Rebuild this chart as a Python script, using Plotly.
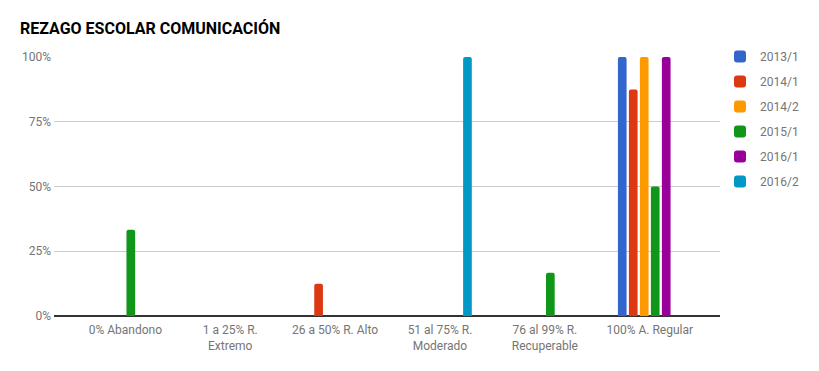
import plotly.graph_objects as go

categories = ["0% Abandono", "1 a 25% R.<br>Extremo", "26 a 50% R. Alto",
              "51 al 75% R.<br>Moderado", "76 al 99% R.<br>Recuperable", "100% A. Regular"]
series_names = ["2013/1", "2014/1", "2014/2", "2015/1", "2016/1", "2016/2"]
s2013_1 = [0, 0, 0, 0, 0, 100]
s2014_1 = [0, 0, 12.5, 0, 0, 87.5]
s2014_2 = [0, 0, 0, 0, 0, 100]
s2015_1 = [33.3, 0, 0, 0, 16.7, 50]
s2016_1 = [0, 0, 0, 0, 0, 100]
s2016_2 = [0, 0, 0, 100, 0, 0]
series_values = [s2013_1, s2014_1, s2014_2, s2015_1, s2016_1, s2016_2]
colors = ["#3366cc", "#dc3912", "#ff9900", "#109618", "#990099", "#0099c6"]
y_ticks = [0, 25, 50, 75, 100]
y_ticklabels = ["0%", "25%", "50%", "75%", "100%"]

fig = go.Figure()
for name, vals, col in zip(series_names, series_values, colors):
    fig.add_trace(go.Bar(
        name=name, x=list(range(len(categories))), y=vals,
        marker=dict(color=col, line=dict(width=0), cornerradius=2),
        legendgroup=name,
    ))

# page body has an 8px margin, so the figure is sized/offset to compensate
fig.update_layout(
    width=811, height=363,
    margin=dict(l=46, r=99, t=49, b=55),
    paper_bgcolor="white", plot_bgcolor="white",
    font=dict(family="Roboto", size=12, color="#757575"),
    title=dict(text="<b>REZAGO ESCOLAR COMUNICACIÓN</b>", x=12/811, xref="container", xanchor="left",
               y=1-20/363, yref="container", yanchor="middle",
               font=dict(family="Roboto", size=16, color="#000000")),
    barmode="group", bargap=0.371, bargroupgap=0.21,
    showlegend=True,
    legend=dict(x=1.0, xanchor="left", y=1.058, yanchor="top",
                font=dict(family="Roboto", size=12, color="#757575"),
                tracegroupgap=6, traceorder="grouped", itemclick=False),
    xaxis=dict(tickmode="array", tickvals=list(range(len(categories))), ticktext=categories,
               range=[-0.68, 5.67], showgrid=False, showline=False, zeroline=False,
               ticks="", ticklabelstandoff=5, tickfont=dict(size=12, color="#757575")),
    yaxis=dict(range=[0, 100], tickmode="array", tickvals=y_ticks, ticktext=y_ticklabels,
               showgrid=True, gridcolor="#cccccc", zeroline=True, zerolinecolor="#333333",
               zerolinewidth=1.5, ticks="", ticklabelstandoff=2,
               tickfont=dict(size=12, color="#757575"), showline=False),
)

fig.write_html("out.html")
